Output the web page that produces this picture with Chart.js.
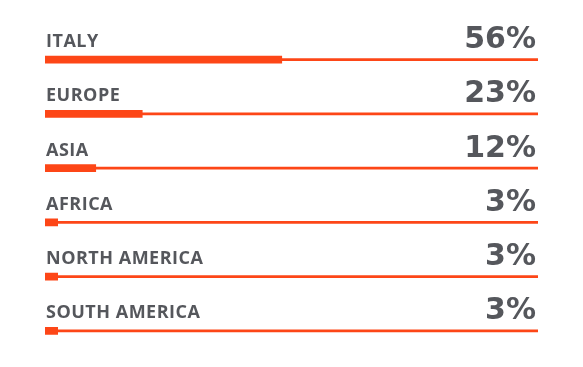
<!DOCTYPE html>
<html>
<head>
<meta charset="utf-8">
<script src="https://cdn.jsdelivr.net/npm/chart.js@4"></script>
<style>
  html, body { margin: 0; padding: 0; background: #fff; }
  #wrap { width: 583px; height: 367px; position: relative; }
</style>
</head>
<body>
<div id="wrap"><canvas id="chart"></canvas></div>
<script>
var categories = ["ITALY", "EUROPE", "ASIA", "AFRICA", "NORTH AMERICA", "SOUTH AMERICA"];
var shares = [56, 23, 12, 3, 3, 3];
var axisMax = 116.6;

var ORANGE = "#fd4617";
var GREY = "#55575c";

// label above each bar on the left, big percentage on the right
var rowText = {
  id: "rowText",
  afterDatasetsDraw: function (chart) {
    var ctx = chart.ctx;
    var y = chart.scales.y;
    var area = chart.chartArea;
    ctx.save();
    ctx.fillStyle = GREY;
    ctx.textBaseline = "alphabetic";
    for (var i = 0; i < categories.length; i++) {
      var cy = y.getPixelForValue(i);
      ctx.font = "700 18px 'Open Sans'";
      ctx.letterSpacing = "0.5px";
      ctx.textAlign = "left";
      ctx.fillText(categories[i], area.left + 1, cy - 12.5);
      ctx.font = "700 30px 'DejaVu Sans'";
      ctx.letterSpacing = "0px";
      ctx.textAlign = "right";
      ctx.fillText(shares[i] + "%", area.right - 2, cy - 11.5);
    }
    ctx.restore();
  }
};

new Chart(document.getElementById("chart"), {
  type: "bar",
  data: {
    labels: categories,
    datasets: [
      {
        data: shares,
        backgroundColor: ORANGE,
        barThickness: 7,
        grouped: false,
        order: 0
      },
      {
        data: categories.map(function () { return axisMax; }),
        backgroundColor: ORANGE,
        barThickness: 2,
        grouped: false,
        order: 1
      }
    ]
  },
  options: {
    indexAxis: "y",
    responsive: true,
    maintainAspectRatio: false,
    animation: false,
    layout: { padding: { left: 45, right: 45, top: 32.5, bottom: 9 } },
    scales: {
      x: { display: false, min: 0, max: axisMax },
      y: { display: false }
    },
    plugins: { legend: { display: false }, tooltip: { enabled: false } }
  },
  plugins: [rowText]
});
</script>
</body>
</html>
